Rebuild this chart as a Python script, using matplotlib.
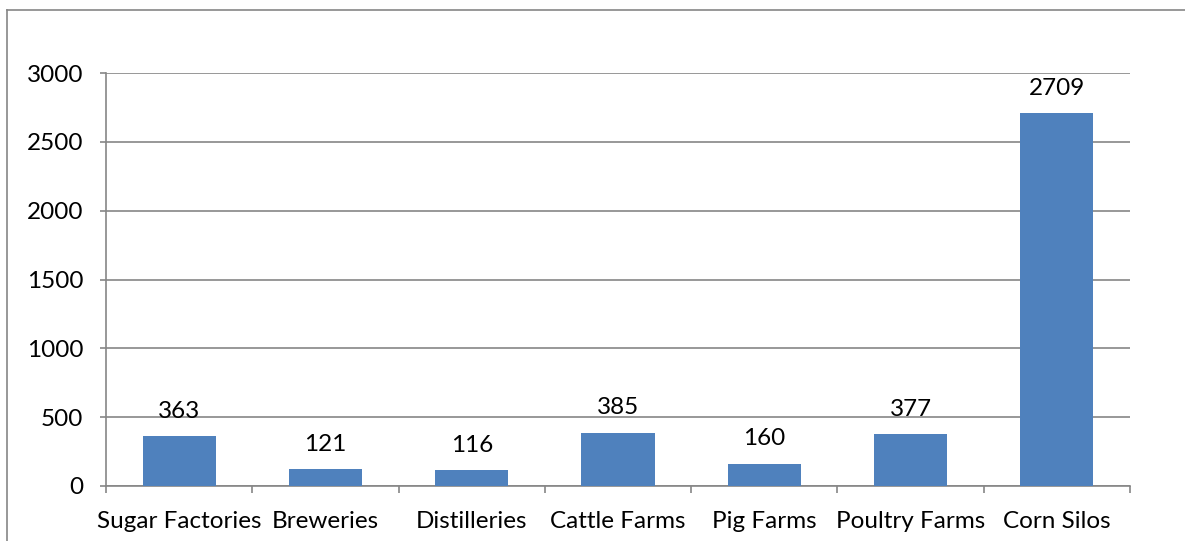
import numpy as np
import matplotlib.pyplot as plt
from matplotlib.lines import Line2D

# chart data
categories = ["Sugar Factories", "Breweries", "Distilleries", "Cattle Farms",
              "Pig Farms", "Poultry Farms", "Corn Silos"]
counts = [363, 121, 116, 385, 160, 377, 2709]
y_ticks = [0, 500, 1000, 1500, 2000, 2500, 3000]

W, H = 1185, 541
plt.rcParams['font.family'] = ['Lato', 'DejaVu Sans']
grid_col = "#868686"
bar_col = "#4F81BD"
fs = 17.5

fig = plt.figure(figsize=(W / 100, H / 100), dpi=100)
ax = fig.add_axes([106 / W, (H - 486) / H, (1130 - 106) / W, (486 - 73) / H])

x = np.arange(len(categories))
ax.bar(x, counts, width=0.5, color=bar_col, zorder=3)

for xi, v in zip(x, counts):
    ax.annotate(str(v), (xi, v), xytext=(0, 18), textcoords="offset points",
                ha="center", va="center", fontsize=fs, color="black")

ax.set_xlim(-0.5, len(categories) - 0.5)
ax.set_ylim(0, 3000)
ax.set_yticks(y_ticks)
ax.set_yticklabels([str(t) for t in y_ticks], fontsize=fs)
ax.set_xticks(x)
ax.set_xticklabels(categories, fontsize=fs)
ax.set_xticks(np.arange(-0.5, len(categories)), minor=True)

ax.tick_params(axis="x", which="major", length=0, pad=18)
ax.tick_params(axis="x", which="minor", length=5, width=1.2, color=grid_col)
ax.tick_params(axis="y", length=4.5, width=1.2, color=grid_col, pad=12)

ax.yaxis.grid(True, color=grid_col, linewidth=1.2, zorder=0)
for s in ["top", "right"]:
    ax.spines[s].set_visible(False)
for s in ["left", "bottom"]:
    ax.spines[s].set_color(grid_col)
    ax.spines[s].set_linewidth(1.2)

# outer chart border (cut off at right and bottom)
fig.add_artist(Line2D([7 / W, 7 / W], [0, 1 - 10 / H], transform=fig.transFigure,
                      color=grid_col, linewidth=1.2))
fig.add_artist(Line2D([7 / W, 1], [1 - 10 / H, 1 - 10 / H], transform=fig.transFigure,
                      color=grid_col, linewidth=1.2))

fig.savefig("out.png", dpi=100)
